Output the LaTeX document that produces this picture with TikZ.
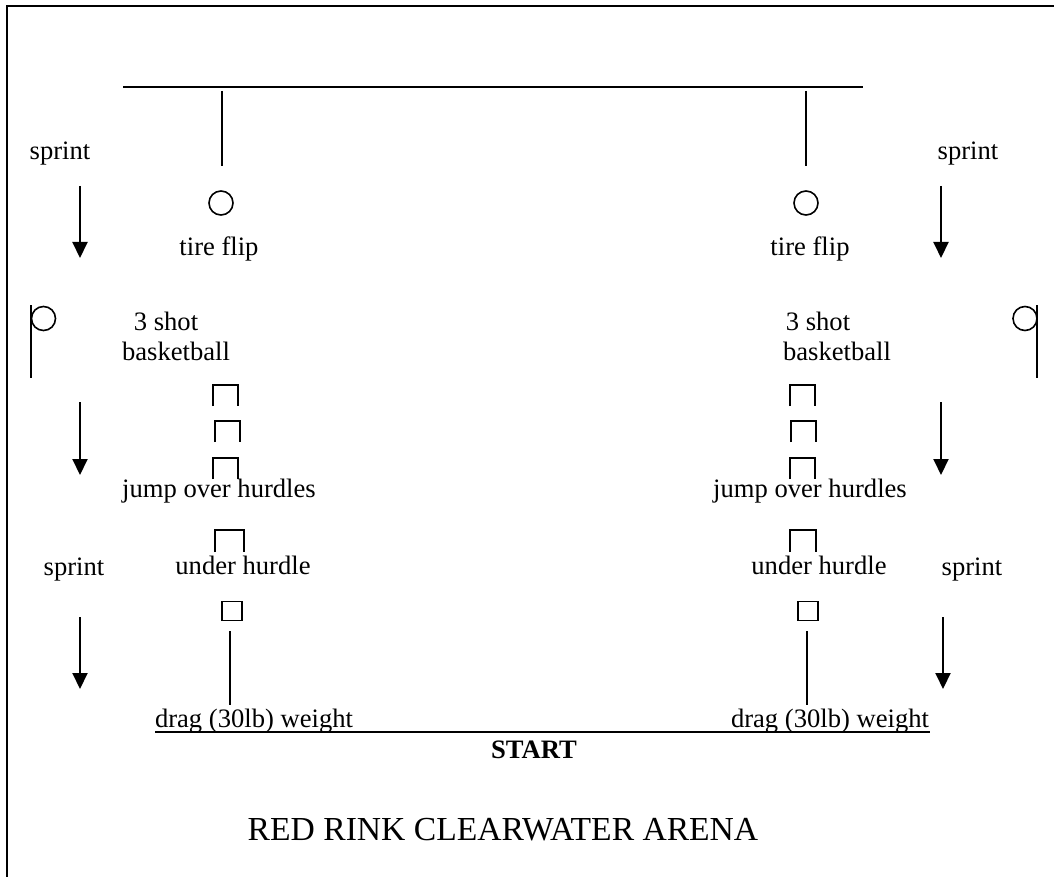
\documentclass[tikz,border=0pt]{standalone}
\usepackage{fontspec}
\setmainfont{Liberation Serif}
\usetikzlibrary{arrows.meta}
\tikzset{
  lbl/.style={inner sep=0pt, anchor=base, font=\fontsize{26.6}{30}\selectfont},
  ln/.style={line width=2pt},
  thin/.style={line width=1.6pt},
  ring/.style={draw, circle, thin, minimum size=24pt, inner sep=0pt},
  arr/.style={line width=2pt, -{Triangle[width=15pt,length=16pt]}},
}
\begin{document}
\begin{tikzpicture}[x=1pt,y=-1pt]
\useasboundingbox (0,0) rectangle (1054,877);
% border
\draw[ln] (7,877) -- (7,6) -- (1054,6);
% top line
\coordinate (tl) at (123,87); \coordinate (tr) at (863,87);
\draw[ln] (tl) -- (tr);
% left column
\coordinate (lv1) at (222,91); \coordinate (lv2) at (222,166);
\draw[ln] (lv1) -- (lv2);
\node[ring] (lc) at (221,203) {};
\node[lbl] (ltf) at (219,255) {tire flip};
\node[lbl] (l3s) at (166,330) {3 shot};
\node[lbl] (lbb) at (176,360) {basketball};
\foreach \x/\y in {213/385, 215/421, 213/458} {
  \draw[ln] (\x,\y+21) -- (\x,\y) -- (\x+25,\y) -- (\x+25,\y+21);
}
\node[lbl] (ljh) at (219,497) {jump over hurdles};
\draw[ln] (215,552) -- (215,530) -- (244,530) -- (244,552);
\node[lbl] (luh) at (243,574) {under hurdle};
\node[draw, thin, minimum width=20pt, minimum height=19pt, inner sep=0pt] (lsq) at (232,611) {};
\coordinate (ld1) at (230,631); \coordinate (ld2) at (230,705);
\draw[ln] (ld1) -- (ld2);
\node[lbl] (ldw) at (254,727) {drag (30lb) weight};
% right column
\coordinate (rv1) at (806,91); \coordinate (rv2) at (806,166);
\draw[ln] (rv1) -- (rv2);
\node[ring] (rc) at (806,203) {};
\node[lbl] (rtf) at (810,255) {tire flip};
\node[lbl] (r3s) at (818,330) {3 shot};
\node[lbl] (rbb) at (837,360) {basketball};
\foreach \x/\y in {790/385, 791/421, 790/458} {
  \draw[ln] (\x,\y+21) -- (\x,\y) -- (\x+25,\y) -- (\x+25,\y+21);
}
\node[lbl] (rjh) at (810,497) {jump over hurdles};
\draw[ln] (790,552) -- (790,530) -- (816,530) -- (816,552);
\node[lbl] (ruh) at (819,574) {under hurdle};
\node[draw, thin, minimum width=20pt, minimum height=19pt, inner sep=0pt] (rsq) at (808,611) {};
\coordinate (rd1) at (807,631); \coordinate (rd2) at (807,705);
\draw[ln] (rd1) -- (rd2);
\node[lbl] (rdw) at (830,727) {drag (30lb) weight};
% start line
\coordinate (sl) at (155,732); \coordinate (sr) at (930,732);
\draw[ln] (sl) -- (sr);
\node[lbl, font=\fontsize{26.6}{30}\selectfont\bfseries] (start) at (534,758) {START};
\node[lbl, font=\fontsize{33.6}{38}\selectfont] (title) at (503,840) {RED RINK CLEARWATER ARENA};
% sprint labels and arrows
\node[lbl] (ls1) at (60,160) {sprint};
\node[lbl] (rs1) at (968,160) {sprint};
\node[lbl] (ls2) at (74,575) {sprint};
\node[lbl] (rs2) at (972,575) {sprint};
\coordinate (la1) at (80,186); \coordinate (la1e) at (80,258);
\coordinate (la2) at (80,402); \coordinate (la2e) at (80,475);
\coordinate (la3) at (80,617); \coordinate (la3e) at (80,689);
\coordinate (ra1) at (941,186); \coordinate (ra1e) at (941,258);
\coordinate (ra2) at (941,402); \coordinate (ra2e) at (941,475);
\coordinate (ra3) at (943,617); \coordinate (ra3e) at (943,689);
\draw[arr] (la1) -- (la1e);
\draw[arr] (la2) -- (la2e);
\draw[arr] (la3) -- (la3e);
\draw[arr] (ra1) -- (ra1e);
\draw[arr] (ra2) -- (ra2e);
\draw[arr] (ra3) -- (ra3e);
% flags
\coordinate (lp1) at (31,305); \coordinate (lp2) at (31,378);
\draw[ln] (lp1) -- (lp2);
\node[ring] (lfc) at (43.5,318.5) {};
\coordinate (rp1) at (1037,305); \coordinate (rp2) at (1037,378);
\draw[ln] (rp1) -- (rp2);
\node[ring] (rfc) at (1025,318.5) {};
\end{tikzpicture}
\end{document}
